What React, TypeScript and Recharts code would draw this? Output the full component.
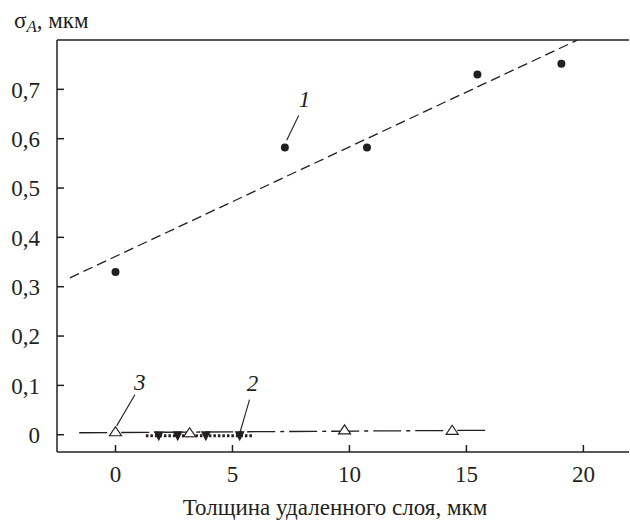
import {
  ComposedChart,
  Line,
  ReferenceDot,
  ReferenceLine,
  Scatter,
  XAxis,
  YAxis,
} from "recharts";

const INK = "#231f20";
const FONT = "Liberation Serif, DejaVu Serif, serif";

const xTicks = [0, 5, 10, 15, 20];
const yTicks = [0, 0.1, 0.2, 0.3, 0.4, 0.5, 0.6, 0.7];

// curve 1: measured points + dashed trend
const series1 = [
  { x: 0, y: 0.33 },
  { x: 7.24, y: 0.582 },
  { x: 10.75, y: 0.582 },
  { x: 15.47, y: 0.73 },
  { x: 19.06, y: 0.752 },
];
const trend1 = [
  { x: -1.95, y: 0.318 },
  { x: 19.75, y: 0.8 },
];

// curve 2: filled down triangles, dotted line
const series2 = [
  { x: 1.85, y: -0.003 },
  { x: 2.66, y: -0.003 },
  { x: 3.86, y: -0.003 },
  { x: 5.31, y: -0.003 },
];
const trend2 = [
  { x: 1.3, y: -0.002 },
  { x: 5.9, y: -0.002 },
];

// curve 3: open triangles, dash-dot line
const series3 = [
  { x: 0, y: 0.006 },
  { x: 3.17, y: 0.004 },
  { x: 9.79, y: 0.01 },
  { x: 14.39, y: 0.009 },
];
const trend3 = [
  { x: -1.55, y: 0.004 },
  { x: 15.8, y: 0.009 },
];

const callouts = [
  { text: "1", at: { x: 8.08, y: 0.68 }, from: { x: 7.83, y: 0.647 }, to: { x: 7.32, y: 0.597 } },
  { text: "3", at: { x: 1.04, y: 0.107 }, from: { x: 0.83, y: 0.081 }, to: { x: 0.05, y: 0.018 } },
  { text: "2", at: { x: 5.86, y: 0.105 }, from: { x: 5.73, y: 0.071 }, to: { x: 5.33, y: 0.006 } },
];

const fmt = (v: number) => String(v).replace(".", ",");

function Dot(props: any) {
  const { cx, cy } = props;
  return <circle cx={cx} cy={cy} r={4} fill={INK} />;
}

function TriUp(props: any) {
  const { cx, cy } = props;
  return (
    <polygon
      points={`${cx - 6},${cy + 4} ${cx + 6},${cy + 4} ${cx},${cy - 5}`}
      fill="#fff"
      stroke={INK}
      strokeWidth={1.2}
    />
  );
}

function TriDown(props: any) {
  const { cx, cy } = props;
  return (
    <polygon
      points={`${cx - 5},${cy - 5} ${cx + 5},${cy - 5} ${cx},${cy + 5}`}
      fill={INK}
    />
  );
}

function YTitle(props: any) {
  const { viewBox } = props;
  return (
    <text x={viewBox.x + 14} y={viewBox.y - 12} fill={INK} fontFamily={FONT} fontSize={23}>
      σ
      <tspan fontStyle="italic" fontSize={17} dy={4}>
        A
      </tspan>
      <tspan dy={-4}>, мкм</tspan>
    </text>
  );
}

function XTitle(props: any) {
  const { viewBox } = props;
  return (
    <text
      x={viewBox.x + viewBox.width / 2 - 8}
      y={viewBox.y + 63}
      textAnchor="middle"
      fill={INK}
      fontFamily={FONT}
      fontSize={23}
    >
      Толщина удаленного слоя, мкм
    </text>
  );
}

function CalloutText(props: any) {
  const { viewBox, value } = props;
  return (
    <text
      x={viewBox.x + viewBox.width / 2}
      y={viewBox.y + viewBox.height / 2 + 8}
      textAnchor="middle"
      fill={INK}
      fontFamily={FONT}
      fontStyle="italic"
      fontSize={23}
    >
      {value}
    </text>
  );
}

export default function App() {
  const tick = { fill: INK, fontSize: 23, fontFamily: FONT };
  return (
    <div style={{ position: "absolute", left: 0, top: 0, background: "#fff" }}>
      <ComposedChart
        width={630}
        height={521}
        margin={{ top: 40, right: 1, bottom: 8, left: 0 }}
      >
        <XAxis
          dataKey="x"
          type="number"
          domain={[-2.5, 21.95]}
          ticks={xTicks}
          allowDataOverflow
          height={61}
          tickSize={-7}
          tickMargin={21}
          stroke={INK}
          strokeWidth={1.5}
          tick={tick}
          label={<XTitle />}
        />
        <YAxis
          dataKey="y"
          type="number"
          domain={[-0.035, 0.8]}
          ticks={yTicks}
          allowDataOverflow
          width={57}
          tickSize={-7}
          tickMargin={24}
          tickFormatter={fmt}
          stroke={INK}
          strokeWidth={1.5}
          tick={tick}
          label={<YTitle />}
        />
        <ReferenceLine y={0.8} stroke={INK} strokeWidth={1.5} />

        <Line
          data={trend1}
          dataKey="y"
          stroke={INK}
          strokeWidth={1.3}
          strokeDasharray="10 5"
          dot={false}
          isAnimationActive={false}
        />
        <Line
          data={trend3}
          dataKey="y"
          stroke={INK}
          strokeWidth={1.3}
          strokeDasharray="28 5 4 5"
          dot={false}
          isAnimationActive={false}
        />
        <Line
          data={trend2}
          dataKey="y"
          stroke={INK}
          strokeWidth={3}
          strokeDasharray="2.5 2"
          dot={false}
          isAnimationActive={false}
        />

        {callouts.map((c) => (
          <ReferenceLine
            key={"l" + c.text}
            segment={[c.from, c.to]}
            stroke={INK}
            strokeWidth={1.1}
          />
        ))}
        {callouts.map((c) => (
          <ReferenceDot
            key={"t" + c.text}
            x={c.at.x}
            y={c.at.y}
            r={0}
            fill="none"
            stroke="none"
            label={<CalloutText value={c.text} />}
          />
        ))}

        <Scatter data={series1} dataKey="y" shape={<Dot />} isAnimationActive={false} />
        <Scatter data={series2} dataKey="y" shape={<TriDown />} isAnimationActive={false} />
        <Scatter data={series3} dataKey="y" shape={<TriUp />} isAnimationActive={false} />
      </ComposedChart>
    </div>
  );
}
